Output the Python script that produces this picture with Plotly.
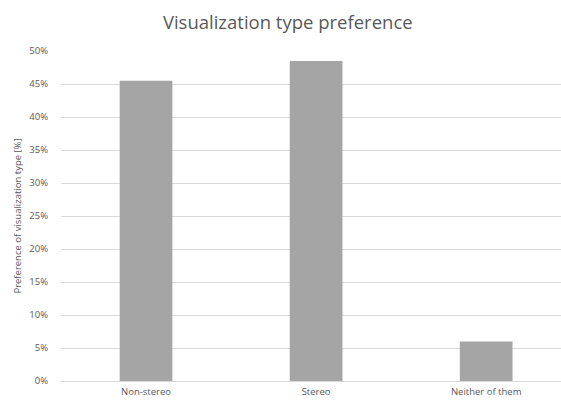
import plotly.graph_objects as go

categories = ["Non-stereo", "Stereo", "Neither of them"]
preference_pct = [45.5, 48.5, 6.0]
y_ticks = [0, 5, 10, 15, 20, 25, 30, 35, 40, 45, 50]

fig = go.Figure(
    go.Bar(
        x=list(range(len(categories))),
        y=preference_pct,
        width=0.31,
        marker=dict(color="#A5A5A5", line=dict(width=0)),
        hoverinfo="skip",
    )
)

fig.update_layout(
    width=561,
    height=403,
    margin=dict(l=61, r=0, t=51, b=22),
    paper_bgcolor="white",
    plot_bgcolor="white",
    font=dict(family="Open Sans, sans-serif", color="#595959", size=9),
    title=dict(
        text="Visualization type preference",
        x=0.513,
        xanchor="center",
        y=0.945,
        yanchor="middle",
        font=dict(family="Open Sans, sans-serif", size=18.5, color="#595959"),
    ),
    showlegend=False,
)

fig.update_xaxes(
    tickmode="array",
    tickvals=list(range(len(categories))),
    ticktext=categories,
    range=[-0.5, 2.44],
    showgrid=False,
    showline=False,
    zeroline=False,
    ticks="",
    ticklabelstandoff=3,
    tickfont=dict(size=9.5, color="#595959"),
)

fig.update_yaxes(
    range=[0, 50],
    tickmode="array",
    tickvals=y_ticks,
    ticktext=[f"{v}%" for v in y_ticks],
    showgrid=True,
    gridcolor="#D9D9D9",
    gridwidth=1,
    zeroline=True,
    zerolinecolor="#D9D9D9",
    zerolinewidth=1,
    showline=False,
    ticks="",
    ticklabelstandoff=12,
    tickfont=dict(size=9.5, color="#595959"),
    title=dict(
        text="Preference of visualization type [%]",
        font=dict(size=9.5, color="#595959"),
        standoff=5,
    ),
)

fig.write_html("out.html")
